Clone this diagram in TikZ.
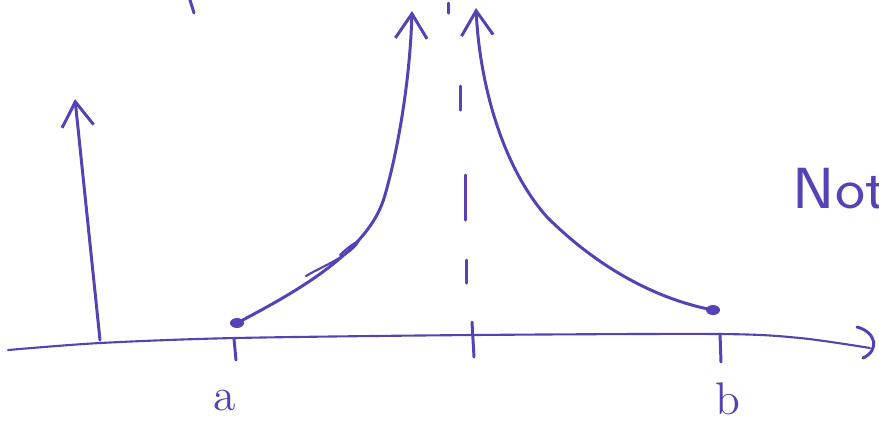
\documentclass[tikz,border=0pt]{standalone}
\usetikzlibrary{arrows.meta}
\definecolor{pen}{RGB}{88,64,182}
\begin{document}
\begin{tikzpicture}[x=0.01cm, y=-0.01cm, line cap=round, line join=round,
  every node/.style={text=pen, inner sep=0pt},
  ink/.style={draw=pen, line width=0.85pt},
  tip/.style={-{Straight Barb[length=7pt,width=9pt,line width=0.85pt]}}]
  \useasboundingbox (0,0) rectangle (879,420);
  % axis with hand drawn end
  \draw[ink, line width=0.6pt] plot[smooth] coordinates {(8,350) (100,343) (235,338) (472,335) (720,334) (800,338) (870,348)};
  \draw[ink] (857,327) .. controls (876,332) and (880,350) .. (863,358);
  % ticks and labels
  \coordinate (ta) at (234,339);
  \coordinate (tm) at (472,335);
  \coordinate (tb) at (720,334);
  \draw[ink] (ta) -- ++(2,21);
  \draw[ink] (tm) ++(0,-13) -- ++(2,35);
  \draw[ink] (tb) -- ++(1,28);
  \node[font=\fontsize{13}{15}\selectfont] (la) at (225,401) {a};
  \node[font=\fontsize{13}{15}\selectfont] (lb) at (728,399) {b};
  % asymptote, dashed by hand
  \foreach \x/\ya/\yb in {448/3/13, 460/86/110, 465/175/220, 466/260/283}
    \draw[ink] (\x,\ya) -- (\x,\yb);
  % left arrow
  \coordinate (v0) at (100,340);
  \draw[ink, tip] (v0) -- (75,99);
  % left branch
  \coordinate (pa) at (237,323);
  \draw[ink, tip] (pa) .. controls (300,290) and (370,250) .. (385,195)
    .. controls (398,150) and (410,80) .. (412,11);
  \draw[ink, line width=0.6pt] (306,276) .. controls (315,270) and (345,258) .. (356,245) .. controls (362,238) and (350,245) .. (340,255);
  \fill[pen] (pa) ellipse (7 and 5);
  % right branch
  \coordinate (pb) at (713,310);
  \draw[ink, tip] (pb) .. controls (660,300) and (600,270) .. (547,217)
    .. controls (505,170) and (480,90) .. (476,8);
  \fill[pen] (pb) ellipse (7 and 5);
  % stray stroke at top
  \draw[ink] (190,0) -- (194,13);
  % side note, runs off the page as in the sketch
  \node[font=\sffamily\fontsize{16.5}{18}\selectfont, anchor=base west, xscale=1.1] (note) at (792,208) {Not};
\end{tikzpicture}
\end{document}
